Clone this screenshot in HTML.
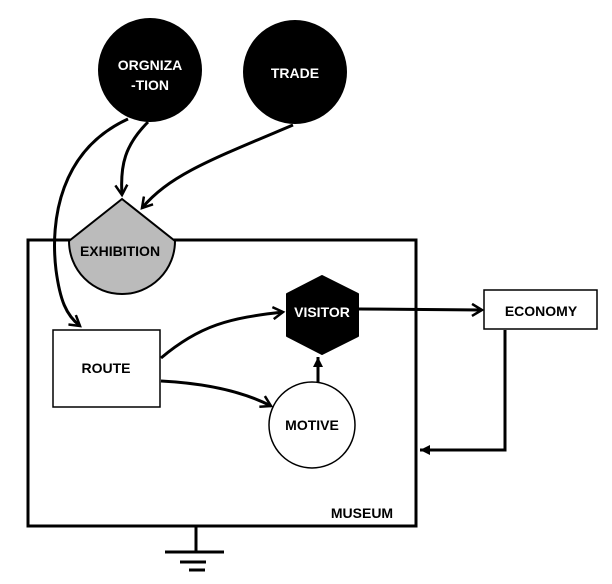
<!DOCTYPE html>
<html><head><style>body{margin:0;background:#fff}svg{display:block}text{font-family:"Liberation Sans",sans-serif;font-weight:bold;font-size:14px;text-anchor:middle}</style></head><body>
<svg width="612" height="584" viewBox="0 0 612 584">
<defs>
<marker id="o" markerWidth="14" markerHeight="14" refX="11" refY="7" orient="auto" markerUnits="userSpaceOnUse"><path d="M1,1 L11,7 L1,13" fill="none" stroke="#000" stroke-width="2.5"/></marker>
<marker id="f" markerWidth="12" markerHeight="10" refX="10" refY="5" orient="auto" markerUnits="userSpaceOnUse"><path d="M0,0 L10,5 L0,10z" fill="#000"/></marker>
</defs>
<rect x="28" y="240" width="388" height="286" fill="none" stroke="#000" stroke-width="3"/>
<text x="362" y="518">MUSEUM</text>
<circle cx="150" cy="70" r="52" fill="#000"/>
<text x="150" y="70" fill="#fff">ORGNIZA</text><text x="150" y="90" fill="#fff">-TION</text>
<circle cx="295" cy="72" r="52" fill="#000"/>
<text x="295" y="78" fill="#fff">TRADE</text>
<path d="M122,199 L69,241 A53,53 0 0 0 175,241 Z" fill="#bbb" stroke="#000" stroke-width="2"/>
<text x="120" y="256">EXHIBITION</text>
<path d="M148,122 C125,145 120,165 122,195" fill="none" stroke="#000" stroke-width="3" marker-end="url(#o)"/>
<path d="M293,125 C210,160 170,175 142,208" fill="none" stroke="#000" stroke-width="3" marker-end="url(#o)"/>
<path d="M128,119 C60,150 50,220 56,270 C60,300 66,315 80,326" fill="none" stroke="#000" stroke-width="3" marker-end="url(#o)"/>
<rect x="53" y="330" width="107" height="77" fill="#fff" stroke="#000" stroke-width="1.5"/>
<text x="106" y="373">ROUTE</text>
<path d="M322,276 L358,294 L358,336 L322,354 L287,336 L287,294 Z" fill="#000" stroke="#000" stroke-width="2" stroke-linejoin="round"/>
<text x="322" y="317" fill="#fff">VISITOR</text>
<circle cx="312" cy="425" r="43" fill="#fff" stroke="#000" stroke-width="1.5"/>
<text x="312" y="430">MOTIVE</text>
<path d="M161,358 C200,325 230,318 283,312" fill="none" stroke="#000" stroke-width="3" marker-end="url(#o)"/>
<path d="M161,381 C200,383 240,390 271,406" fill="none" stroke="#000" stroke-width="3" marker-end="url(#o)"/>
<path d="M318,382 L318,357" fill="none" stroke="#000" stroke-width="3" marker-end="url(#f)"/>
<path d="M359,309 L482,310" fill="none" stroke="#000" stroke-width="3" marker-end="url(#o)"/>
<rect x="484" y="290" width="113" height="39" fill="#fff" stroke="#000" stroke-width="1.5"/>
<text x="541" y="316">ECONOMY</text>
<path d="M505,330 L505,450 L420,450" fill="none" stroke="#000" stroke-width="3" marker-end="url(#f)"/>
<path d="M196,527 L196,552 M165,552 L224,552 M180,562 L206,562 M189,570 L205,570" stroke="#000" stroke-width="3" fill="none"/>
</svg>
</body></html>
